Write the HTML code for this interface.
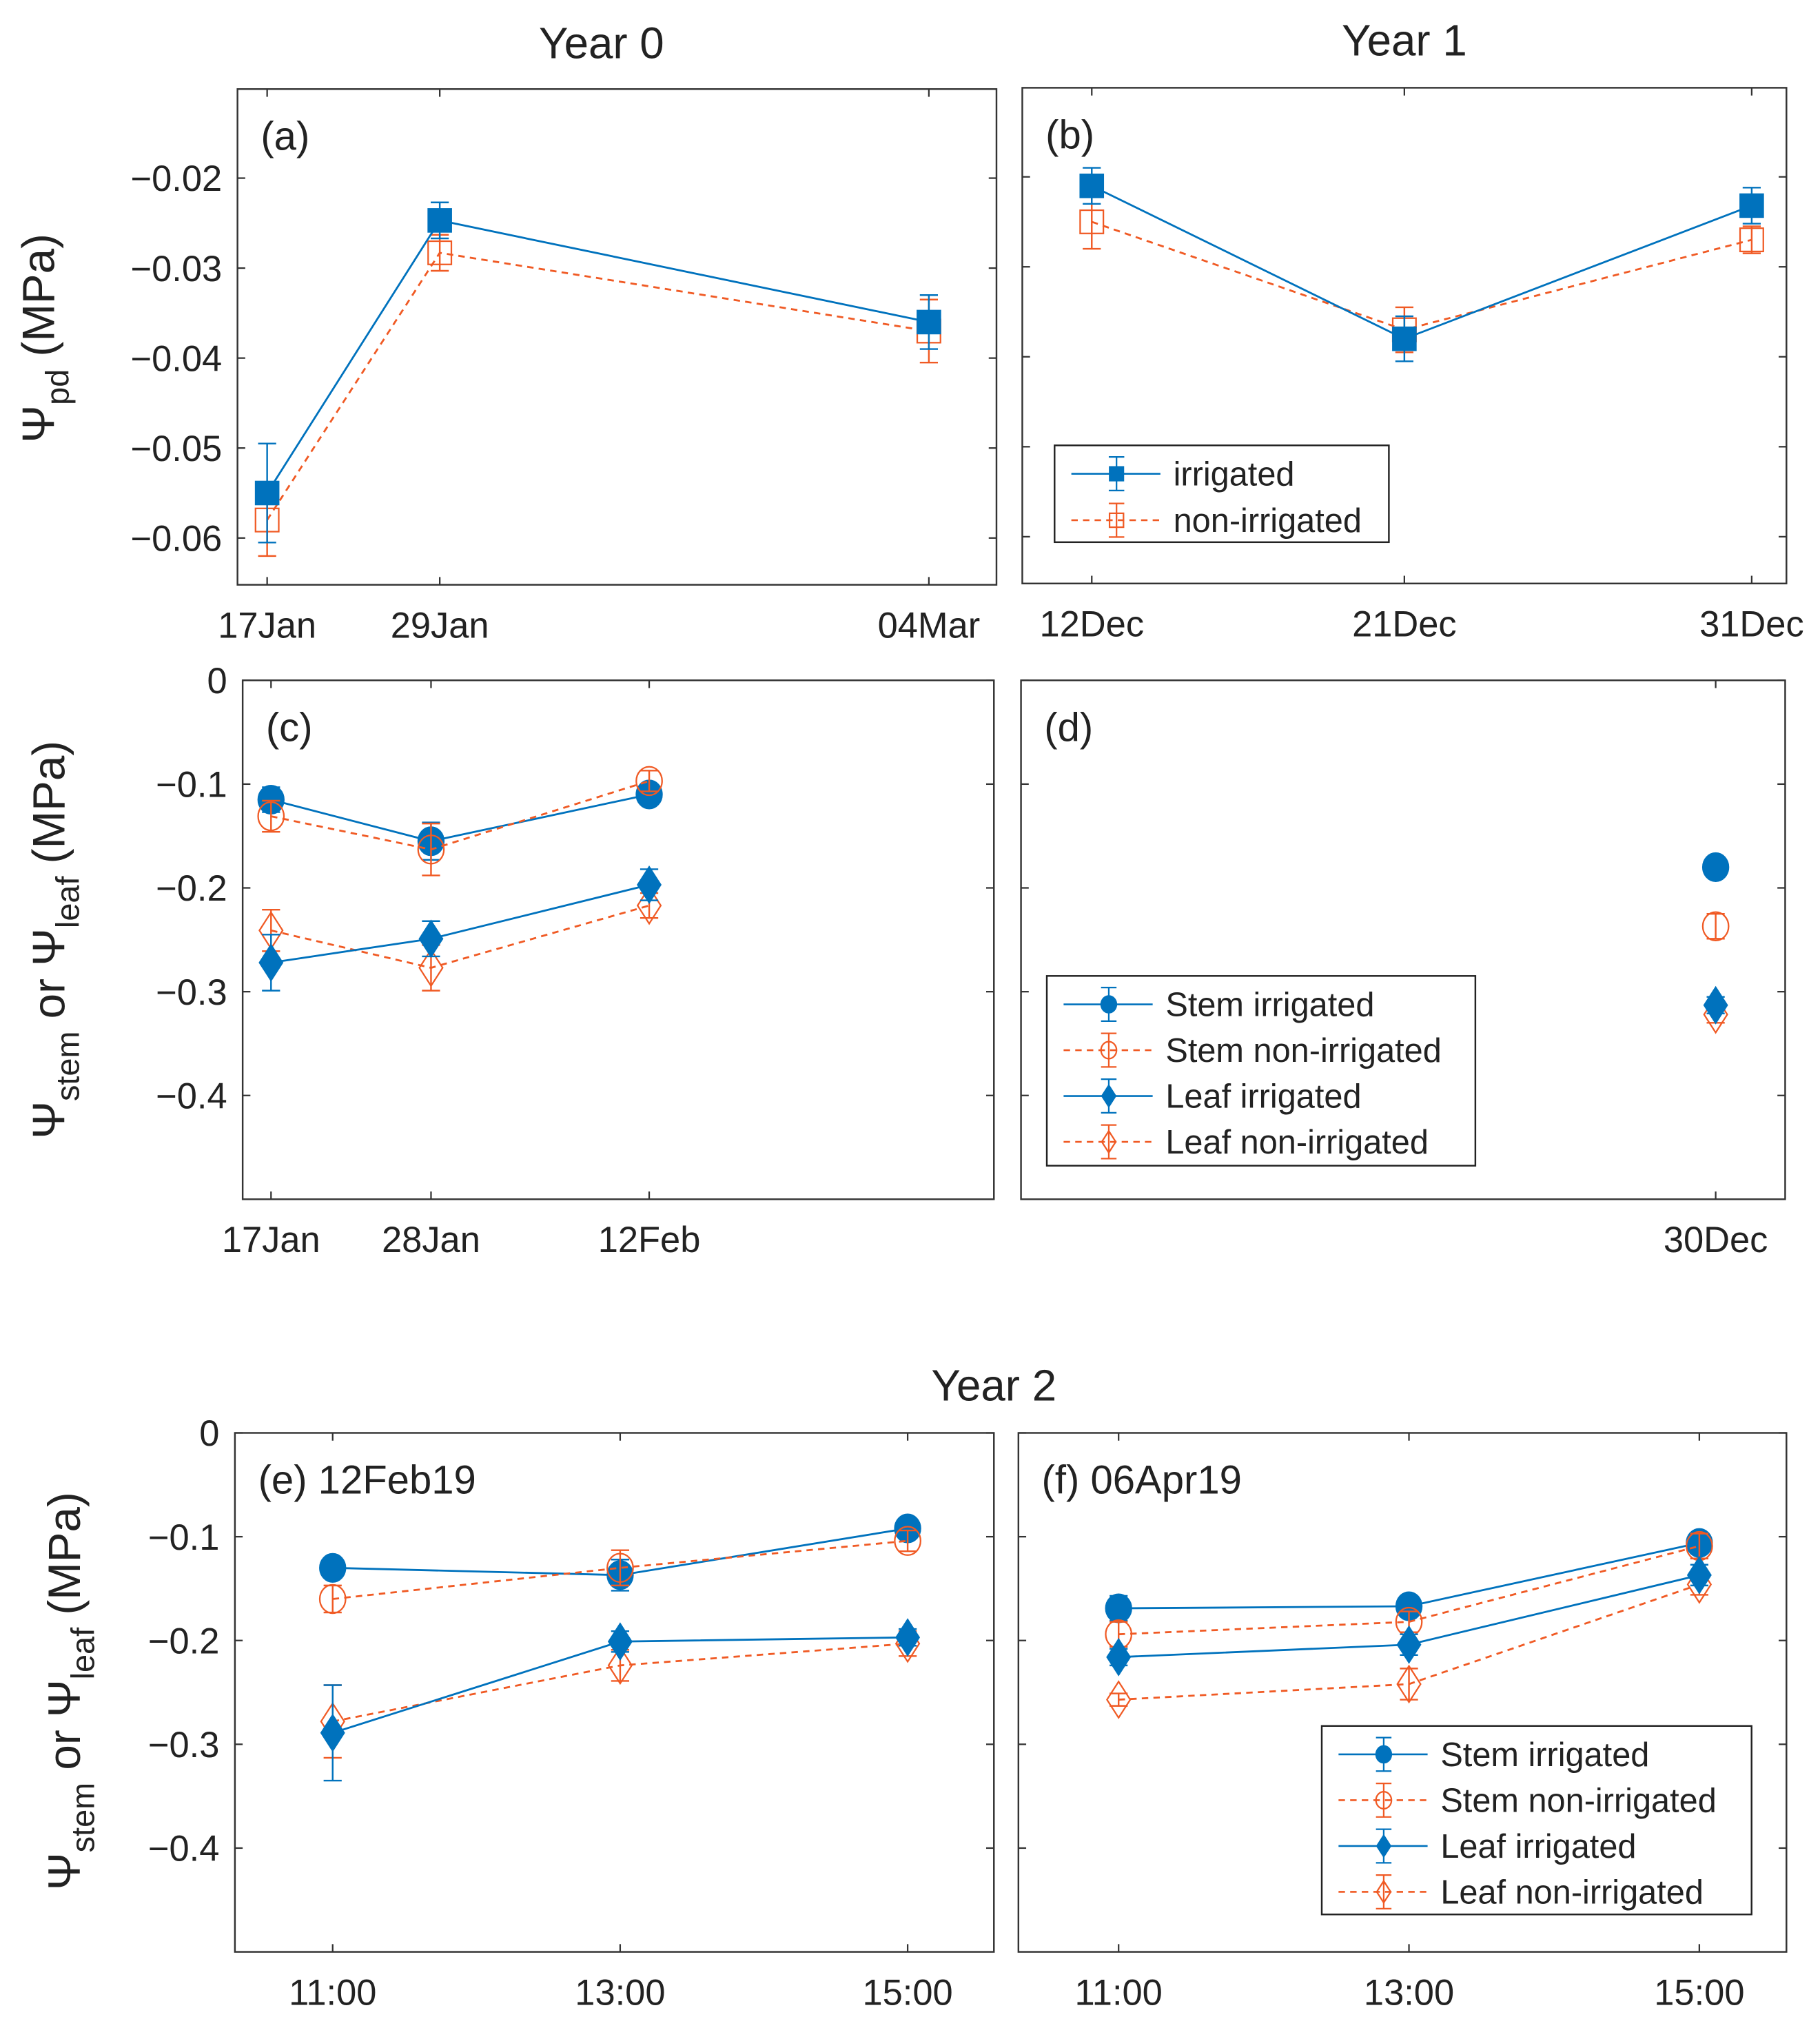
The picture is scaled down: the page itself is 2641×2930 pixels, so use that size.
<!DOCTYPE html>
<html><head><meta charset="utf-8"><style>
html,body{margin:0;padding:0;background:#fff}
svg{display:block}
text{font-family:"Liberation Sans",sans-serif;fill:#222}
</style></head><body>
<svg id="fig" width="2641" height="2930" viewBox="0 0 1410 1564" preserveAspectRatio="none" xmlns="http://www.w3.org/2000/svg">
<text x="466" y="45" font-size="34" text-anchor="middle">Year 0</text>
<text x="1088" y="43" font-size="34" text-anchor="middle">Year 1</text>
<text x="770" y="1085" font-size="34" text-anchor="middle">Year 2</text>
<text transform="translate(42,262) rotate(-90)" font-size="35" text-anchor="middle">Ψ<tspan font-size="25" dy="11">pd</tspan><tspan dy="-11"> (MPa)</tspan></text>
<text transform="translate(50,728) rotate(-90)" font-size="35" text-anchor="middle">Ψ<tspan font-size="25" dy="11">stem</tspan><tspan dy="-11"> or Ψ</tspan><tspan font-size="25" dy="11">leaf</tspan><tspan dy="-11"> (MPa)</tspan></text>
<text transform="translate(62,1310) rotate(-90)" font-size="35" text-anchor="middle">Ψ<tspan font-size="25" dy="11">stem</tspan><tspan dy="-11"> or Ψ</tspan><tspan font-size="25" dy="11">leaf</tspan><tspan dy="-11"> (MPa)</tspan></text>
</svg>
<script>
// ---- data ----
const aDays=[0,12,46];
const aTicks=['17Jan','29Jan','04Mar'];
const aIrr=[-0.055,-0.0247,-0.036];
const aIrrErr=[0.0055,0.002,0.003];
const aNon=[-0.058,-0.0283,-0.037];
const aNonErr=[0.004,0.002,0.0035];
const aYTicks=[-0.02,-0.03,-0.04,-0.05,-0.06];
const aYLabels=['\u22120.02','\u22120.03','\u22120.04','\u22120.05','\u22120.06'];

const bDays=[0,9,19];
const bTicks=['12Dec','21Dec','31Dec'];
const bIrr=[-0.021,-0.038,-0.0232];
const bIrrErr=[0.002,0.0025,0.002];
const bNon=[-0.025,-0.037,-0.027];
const bNonErr=[0.003,0.0025,0.0015];

const cDays=[0,11,26];
const cTicks=['17Jan','28Jan','12Feb'];
const cStemIrr=[-0.115,-0.155,-0.11];
const cStemIrrErr=[0.012,0.018,0.005];
const cStemNon=[-0.131,-0.163,-0.097];
const cStemNonErr=[0.015,0.025,0.01];
const cLeafIrr=[-0.272,-0.249,-0.197];
const cLeafIrrErr=[0.027,0.017,0.015];
const cLeafNon=[-0.241,-0.277,-0.217];
const cLeafNonErr=[0.02,0.022,0.012];
const sYTicks=[0,-0.1,-0.2,-0.3,-0.4];
const sYLabels=['0','\u22120.1','\u22120.2','\u22120.3','\u22120.4'];

const dDays=[0];
const dTicks=['30Dec'];
const dStemIrr=[-0.18];const dStemIrrErr=[0.004];
const dStemNon=[-0.237];const dStemNonErr=[0.012];
const dLeafIrr=[-0.313];const dLeafIrrErr=[0.008];
const dLeafNon=[-0.322];const dLeafNonErr=[0.008];

const eHours=[11,13,15];
const eTicks=['11:00','13:00','15:00'];
const eStemIrr=[-0.13,-0.137,-0.092];
const eStemIrrErr=[0.005,0.015,0.005];
const eStemNon=[-0.16,-0.13,-0.104];
const eStemNonErr=[0.013,0.017,0.01];
const eLeafIrr=[-0.289,-0.201,-0.197];
const eLeafIrrErr=[0.046,0.01,0.008];
const eLeafNon=[-0.278,-0.224,-0.203];
const eLeafNonErr=[0.035,0.015,0.012];

const fStemIrr=[-0.169,-0.167,-0.106];
const fStemIrrErr=[0.012,0.005,0.004];
const fStemNon=[-0.194,-0.182,-0.109];
const fStemNonErr=[0.012,0.01,0.012];
const fLeafIrr=[-0.216,-0.204,-0.137];
const fLeafIrrErr=[0.008,0.01,0.01];
const fLeafNon=[-0.257,-0.242,-0.146];
const fLeafNonErr=[0.006,0.015,0.01];

const BLUE='#0072BD', ORG='#F05A24';
const NS='http://www.w3.org/2000/svg';
const svg=document.getElementById('fig');
function mk(tag,at,parent){const e=document.createElementNS(NS,tag);for(const k in at)e.setAttribute(k,at[k]);(parent||svg).appendChild(e);return e;}

function panel(p){
  const g=mk('g',{});
  
  
  const X=v=>p.x0+(v-p.xmin)/(p.xmax-p.xmin)*(p.x1-p.x0);
  const Y=v=>p.y0+(p.ymax-v)/(p.ymax-p.ymin)*(p.y1-p.y0);
  const box=mk('rect',{x:p.x0,y:p.y0,width:p.x1-p.x0,height:p.y1-p.y0,fill:'none',stroke:'#333','stroke-width':1.3},g);
  
  
  p.xv.forEach((v,i)=>{
    const x=X(v);
    mk('line',{x1:x,x2:x,y1:p.y1,y2:p.y1-6,stroke:'#333','stroke-width':1.2},g);
    mk('line',{x1:x,x2:x,y1:p.y0,y2:p.y0+6,stroke:'#333','stroke-width':1.2},g);
    const t=mk('text',{x:x,y:p.y1+41,'font-size':28,'text-anchor':'middle'},g);
    t.textContent=p.xt[i];
    
    
  });
  p.yv.forEach((v,i)=>{
    const y=Y(v);
    mk('line',{x1:p.x0,x2:p.x0+6,y1:y,y2:y,stroke:'#333','stroke-width':1.2},g);
    mk('line',{x1:p.x1,x2:p.x1-6,y1:y,y2:y,stroke:'#333','stroke-width':1.2},g);
    if(p.yl){const t=mk('text',{x:p.x0-12,y:y+10,'font-size':28,'text-anchor':'end'},g);
    t.textContent=p.yl[i];
    
    }
  });
  const lab=mk('text',{x:p.x0+18,y:p.y0+47,'font-size':31},g);
  lab.textContent=p.label;
  
  
  p.series.forEach(s=>{
    const sg=mk('g',{},g);
    
    
    const col=s.irr?BLUE:ORG;
    if(p.xv.length>1){
      const pts=p.xv.map((v,i)=>X(v)+','+Y(s.y[i])).join(' ');
      mk('polyline',{points:pts,fill:'none',stroke:col,'stroke-width':1.5,'stroke-dasharray':s.irr?'none':'5,4'},sg);
    }
    p.xv.forEach((v,i)=>{
      const x=X(v),y=Y(s.y[i]),e=s.e[i];
      const yt=Y(s.y[i]+e),yb=Y(s.y[i]-e);
      mk('line',{x1:x,x2:x,y1:yt,y2:yb,stroke:col,'stroke-width':1.3},sg);
      mk('line',{x1:x-7,x2:x+7,y1:yt,y2:yt,stroke:col,'stroke-width':1.3},sg);
      mk('line',{x1:x-7,x2:x+7,y1:yb,y2:yb,stroke:col,'stroke-width':1.3},sg);
      const m=marker(s.m,x,y,s.irr,sg);
      
      
    });
  });
  if(p.legend){
    const L=p.legend;
    const lg=mk('g',{},g);
    
    
    mk('rect',{x:L.x,y:L.y,width:L.w,height:L.h,fill:'#fff',stroke:'#222','stroke-width':1.3},lg);
    L.items.forEach((it,i)=>{
      const cy=L.y+22+i*L.dy;
      const col=it.irr?BLUE:ORG;
      const row=mk('g',{},lg);
      
      
      mk('line',{x1:L.x+13,x2:L.x+82,y1:cy,y2:cy,stroke:col,'stroke-width':1.4,'stroke-dasharray':it.irr?'none':'5,4'},row);
      const mx=L.x+48;
      mk('line',{x1:mx,x2:mx,y1:cy-13,y2:cy+13,stroke:col,'stroke-width':1.2},row);
      mk('line',{x1:mx-6,x2:mx+6,y1:cy-13,y2:cy-13,stroke:col,'stroke-width':1.2},row);
      mk('line',{x1:mx-6,x2:mx+6,y1:cy+13,y2:cy+13,stroke:col,'stroke-width':1.2},row);
      marker(it.m,mx,cy,it.irr,row,0.6);
      const t=mk('text',{x:L.x+92,y:cy+9,'font-size':26},row);
      t.textContent=it.t;
    });
  }
}
function marker(type,x,y,filled,parent,sc){
  sc=sc||1;
  const col=filled?BLUE:ORG;
  const at={fill:filled?col:'none',stroke:col,'stroke-width':filled?1:1.2};
  if(type==='s'){const h=9*sc;return mk('rect',Object.assign({x:x-h,y:y-h,width:2*h,height:2*h},at),parent);}
  if(type==='o'){return mk('ellipse',Object.assign({cx:x,cy:y,rx:10*sc,ry:11*sc},at),parent);}
  const w=9*sc,h=14*sc;
  return mk('polygon',Object.assign({points:`${x},${y-h} ${x+w},${y} ${x},${y+h} ${x-w},${y}`},at),parent);
}
function four(si,sie,sn,sne,li,lie,ln,lne){
  return [{name:'stem-irrigated',irr:true,m:'o',y:si,e:sie},
          {name:'stem-non-irrigated',irr:false,m:'o',y:sn,e:sne},
          {name:'leaf-non-irrigated',irr:false,m:'d',y:ln,e:lne},
          {name:'leaf-irrigated',irr:true,m:'d',y:li,e:lie}];
}
const leg4=[{t:'Stem irrigated',irr:true,m:'o'},{t:'Stem non-irrigated',irr:false,m:'o'},{t:'Leaf irrigated',irr:true,m:'d'},{t:'Leaf non-irrigated',irr:false,m:'d'}];

panel({id:'a',label:'(a)',x0:184,x1:772,y0:69,y1:453,xmin:-2.06,xmax:50.7,ymin:-0.0652,ymax:-0.0101,
  xv:aDays,xt:aTicks,yv:aYTicks,yl:aYLabels,
  series:[{name:'non-irrigated',irr:false,m:'s',y:aNon,e:aNonErr},{name:'irrigated',irr:true,m:'s',y:aIrr,e:aIrrErr}]});
panel({id:'b',label:'(b)',x0:792,x1:1384,y0:68,y1:452,xmin:-2.0,xmax:20.0,ymin:-0.0652,ymax:-0.0101,
  xv:bDays,xt:bTicks,yv:aYTicks,
  series:[{name:'non-irrigated',irr:false,m:'s',y:bNon,e:bNonErr},{name:'irrigated',irr:true,m:'s',y:bIrr,e:bIrrErr}],
  legend:{x:817,y:345,w:259,h:75,dy:36,items:[{t:'irrigated',irr:true,m:'s'},{t:'non-irrigated',irr:false,m:'s'}]}});
panel({id:'c',label:'(c)',x0:188,x1:770,y0:527,y1:929,xmin:-1.95,xmax:49.7,ymin:-0.5,ymax:0,
  xv:cDays,xt:cTicks,yv:sYTicks,yl:sYLabels,
  series:four(cStemIrr,cStemIrrErr,cStemNon,cStemNonErr,cLeafIrr,cLeafIrrErr,cLeafNon,cLeafNonErr)});
panel({id:'d',label:'(d)',x0:791,x1:1383,y0:527,y1:929,xmin:-1,xmax:0.1,ymin:-0.5,ymax:0,
  xv:dDays,xt:dTicks,yv:sYTicks,
  series:four(dStemIrr,dStemIrrErr,dStemNon,dStemNonErr,dLeafIrr,dLeafIrrErr,dLeafNon,dLeafNonErr),
  legend:{x:811,y:756,w:332,h:147,dy:35.5,items:leg4}});
panel({id:'e',label:'(e) 12Feb19',x0:182,x1:770,y0:1110,y1:1512,xmin:10.32,xmax:15.6,ymin:-0.5,ymax:0,
  xv:eHours,xt:eTicks,yv:sYTicks,yl:sYLabels,
  series:four(eStemIrr,eStemIrrErr,eStemNon,eStemNonErr,eLeafIrr,eLeafIrrErr,eLeafNon,eLeafNonErr)});
panel({id:'f',label:'(f) 06Apr19',x0:789,x1:1384,y0:1110,y1:1512,xmin:10.31,xmax:15.6,ymin:-0.5,ymax:0,
  xv:eHours,xt:eTicks,yv:sYTicks,
  series:four(fStemIrr,fStemIrrErr,fStemNon,fStemNonErr,fLeafIrr,fLeafIrrErr,fLeafNon,fLeafNonErr),
  legend:{x:1024,y:1337,w:333,h:146,dy:35.5,items:leg4}});
</script>
</body></html>
